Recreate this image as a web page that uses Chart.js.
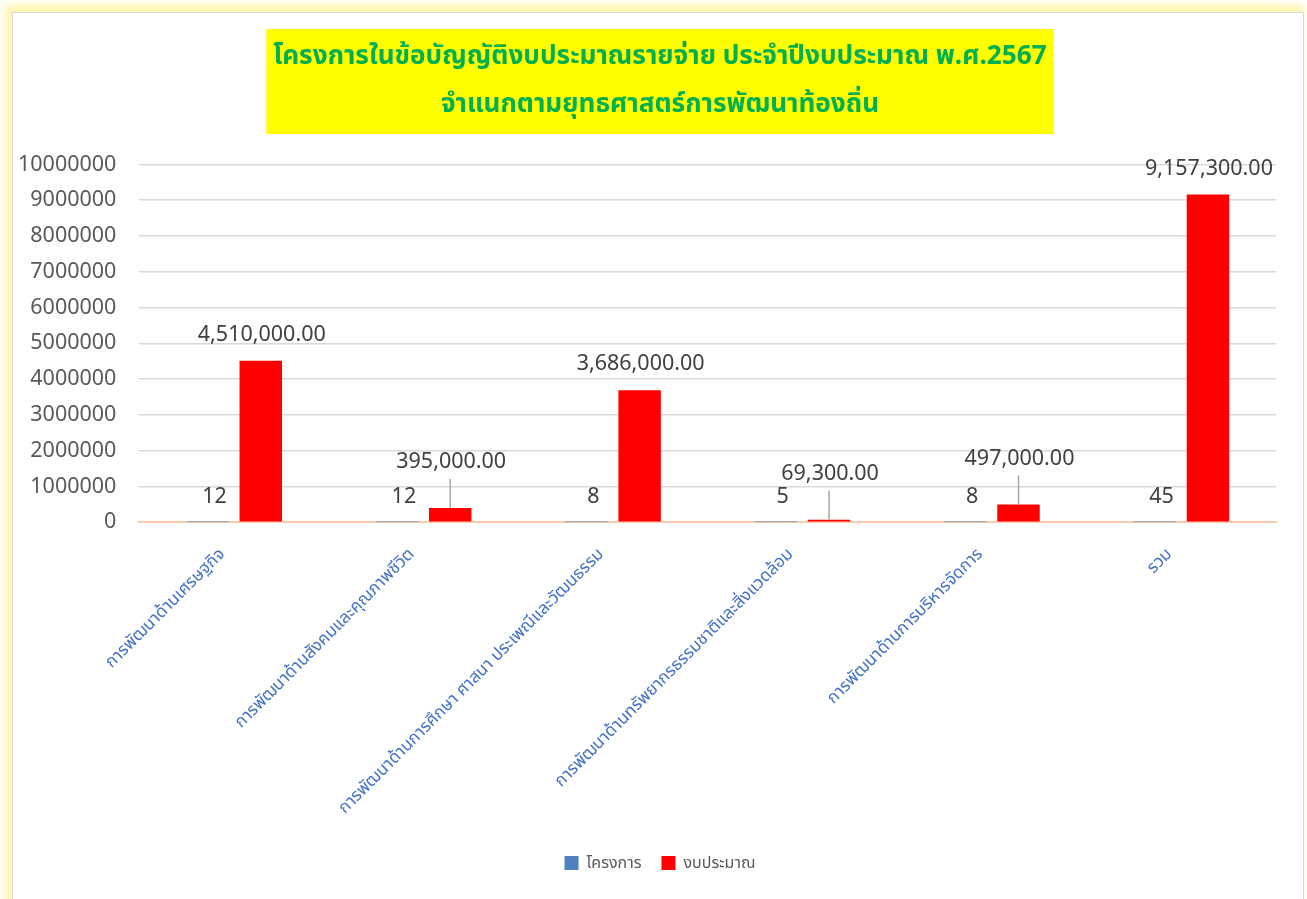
<!DOCTYPE html>
<html>
<head>
<meta charset="utf-8">
<script src="https://cdn.jsdelivr.net/npm/chart.js@4"></script>
<style>
    html, body { margin: 0; padding: 0; background: #ffffff; overflow: hidden; }
    #frame {
        position: absolute; left: 12px; top: 12px; width: 1290px; height: 900px;
        border: 1px solid #d9d9d9;
        box-shadow: -4px -4px 8px 3px #fff6a8;
        background: #ffffff;
    }
    #wrap { position: absolute; left: 0; top: 0; width: 1289px; height: 886px; }
</style>
</head>
<body>
<div id="frame">
    <div id="wrap"><canvas id="myChart"></canvas></div>
</div>
<script>
// chart data
const categories = [
    'การพัฒนาด้านเศรษฐกิจ',
    'การพัฒนาด้านสังคมและคุณภาพชีวิต',
    'การพัฒนาด้านการศึกษา ศาสนา ประเพณีและวัฒนธรรม',
    'การพัฒนาด้านทรัพยากรธรรมชาติและสิ่งแวดล้อม',
    'การพัฒนาด้านการบริหารจัดการ',
    'รวม'
];
const projectCount = [12, 12, 8, 5, 8, 45];
const budgetValues = [4510000, 395000, 3686000, 69300, 497000, 9157300];
const seriesNames = ['โครงการ', 'งบประมาณ'];
const titleLines = [
    'โครงการในข้อบัญญัติงบประมาณรายจ่าย ประจำปีงบประมาณ พ.ศ.2567',
    'จำแนกตามยุทธศาสตร์การพัฒนาท้องถิ่น'
];

const FONT = "'Noto Sans', 'Noto Sans Thai', 'Loma', 'Garuda', sans-serif";
const TITLE_SIZE = 26.2;
const Y_PAD = 23;

// yellow box behind the title
const titleBox = {
    id: 'titleBox',
    beforeDraw(chart) {
        const ctx = chart.ctx;
        const tb = chart.titleBlock;
        ctx.save();
        ctx.font = 'bold ' + TITLE_SIZE + 'px ' + FONT;
        let w = 0;
        titleLines.forEach(t => { w = Math.max(w, ctx.measureText(t).width); });
        w += 14;
        const cx = (tb.left + tb.right) / 2;
        ctx.fillStyle = '#ffff00';
        ctx.fillRect(cx - w / 2, tb.top + 16, w, 105);
        ctx.restore();
    }
};

// value labels, small bars get a leader line like excel
const valueLabels = {
    id: 'valueLabels',
    afterDatasetsDraw(chart) {
        const ctx = chart.ctx;
        ctx.save();
        ctx.font = '21.5px ' + FONT;
        ctx.fillStyle = '#404040';
        ctx.textAlign = 'center';
        ctx.textBaseline = 'middle';
        chart.getDatasetMeta(0).data.forEach((bar, i) => {
            ctx.fillText(String(projectCount[i]), bar.x + 7, bar.base - 25);
        });
        chart.getDatasetMeta(1).data.forEach((bar, i) => {
            const txt = budgetValues[i].toLocaleString('en-US', {minimumFractionDigits: 2, maximumFractionDigits: 2});
            const h = bar.base - bar.y;
            if (h > 60) {
                ctx.fillText(txt, bar.x + 1, bar.y - 26);
            } else {
                const ly = bar.y - 46;
                ctx.fillText(txt, bar.x + 1, ly);
                ctx.strokeStyle = '#a6a6a6';
                ctx.lineWidth = 1.5;
                ctx.beginPath();
                ctx.moveTo(bar.x, ly + 17);
                ctx.lineTo(bar.x, bar.y);
                ctx.stroke();
            }
        });
        ctx.restore();
    }
};

const ctx = document.getElementById('myChart').getContext('2d');
const data = {
    labels: categories,
    datasets: [{
        label: seriesNames[0],
        data: projectCount,
        backgroundColor: '#4f81bd',
        barPercentage: 0.796,
        categoryPercentage: 0.563
    },
        {
            label: seriesNames[1],
            data: budgetValues,
            backgroundColor: '#ff0000',
            barPercentage: 0.796,
            categoryPercentage: 0.563
        }
    ]
};
const config = {
    type: 'bar',
    data: data,
    plugins: [titleBox, valueLabels],
    options: {
        responsive: true,
        maintainAspectRatio: false,
        animation: false,
        layout: {
            padding: {left: 5, right: 0, top: 0, bottom: 18}
        },
        scales: {
            x: {
                grid: {display: false, drawTicks: false},
                border: {color: '#f8cbad', width: 2},
                ticks: {
                    color: '#4472c4',
                    font: {family: FONT, size: 17},
                    minRotation: 45,
                    maxRotation: 45,
                    padding: 22,
                    labelOffset: -12
                },
                // the rotated labels may hang over the y axis, like in excel
                afterFit: function (scale) {
                    scale.paddingLeft = 0;
                    scale.paddingRight = 26;
                    scale.height -= 5;
                }
            },
            y: {
                min: 0,
                max: 10000000,
                grid: {color: '#d9d9d9', lineWidth: 1.5, drawTicks: false},
                border: {display: false},
                ticks: {
                    stepSize: 1000000,
                    color: '#595959',
                    font: {family: FONT, size: 21.5},
                    padding: Y_PAD,
                    callback: v => String(v)
                },
                // chart.js reserves the tick padding twice, drop one
                afterFit: function (scale) {
                    scale.width -= Y_PAD;
                }
            }
        },
        plugins: {
            title: {
                display: true,
                text: titleLines,
                color: '#00b050',
                font: {family: FONT, size: TITLE_SIZE, weight: 'bold', lineHeight: 1.84},
                padding: {top: 19, bottom: 36}
            },
            legend: {
                position: 'bottom',
                labels: {
                    color: '#595959',
                    font: {family: FONT, size: 16},
                    boxWidth: 14,
                    boxHeight: 14,
                    padding: 20
                }
            },
            tooltip: {enabled: false}
        }
    }
};
const myChart = new Chart(ctx, config);
</script>
</body>
</html>
